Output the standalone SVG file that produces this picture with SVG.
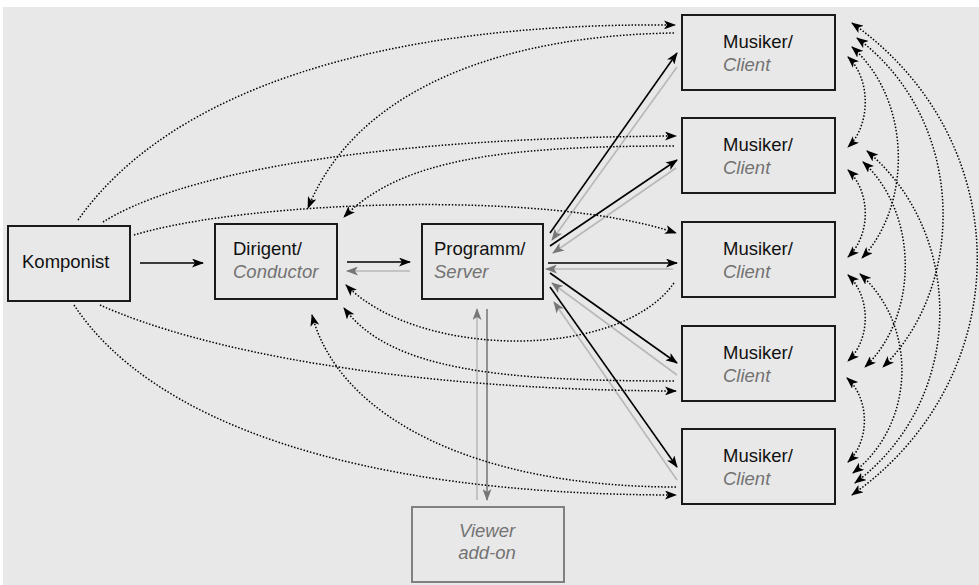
<svg xmlns="http://www.w3.org/2000/svg" width="979" height="585" viewBox="0 0 979 585">
<style>
.box{fill:#e8e8e8;stroke:#1a1a1a;stroke-width:2}
.vbox{fill:#e8e8e8;stroke:#808080;stroke-width:2}
.t{font-family:"Liberation Sans",Arial,sans-serif;font-size:18.5px;fill:#111}
.ti{font-family:"Liberation Sans",Arial,sans-serif;font-size:18.5px;font-style:italic;fill:#737373}
.solid{fill:none;stroke:#000;stroke-width:1.6;marker-end:url(#ah)}
.back{fill:none;stroke:#b8b8b8;stroke-width:1.6;marker-end:url(#ahg)}
.down{fill:none;stroke:#7a7a7a;stroke-width:1.6;marker-end:url(#ahg)}
.dot{fill:none;stroke:#000;stroke-width:1.5;stroke-dasharray:1.5 1.8;marker-end:url(#ah)}
.dot2{fill:none;stroke:#000;stroke-width:1.5;stroke-dasharray:1.5 1.8;marker-start:url(#ah);marker-end:url(#ah)}
</style>
<defs>
<marker id="ah" viewBox="0 0 12 9" refX="11" refY="4.5" markerWidth="12" markerHeight="9" markerUnits="userSpaceOnUse" orient="auto-start-reverse"><path d="M0,0 L12,4.5 L0,9 L3,4.5 z" fill="#000"/></marker>
<marker id="ahg" viewBox="0 0 12 9" refX="11" refY="4.5" markerWidth="12" markerHeight="9" markerUnits="userSpaceOnUse" orient="auto-start-reverse"><path d="M0,0 L12,4.5 L0,9 L3,4.5 z" fill="#767676"/></marker>
</defs>
<rect x="0" y="0" width="979" height="585" fill="#ffffff"/>
<rect x="3" y="7" width="976" height="578" fill="#e8e8e8"/>

<g id="connectors">
<path class="solid" d="M140,263 L203,263"/>
<path class="solid" d="M347,262 L410,262"/>
<path class="back" d="M410,271 L347,271"/>
<path class="solid" d="M550,233 L677,53"/>
<path class="solid" d="M550,246 L677,160"/>
<path class="solid" d="M548,263 L677,263"/>
<path class="solid" d="M550,273 L677,363"/>
<path class="solid" d="M550,287 L677,467"/>
<path class="back" d="M677,67 L552,240"/>
<path class="back" d="M676,168 L553,253"/>
<path class="back" d="M673,269 L546,269"/>
<path class="back" d="M677,375 L552,283"/>
<path class="back" d="M677,480 L554,302"/>
<path class="back" d="M477,500 L477,309"/>
<path class="down" d="M487,309 L487,500"/>

<path class="dot" d="M78,220 C170,90 380,22 675,25"/>
<path class="dot" d="M674,33 C520,35 360,80 308,208"/>
<path class="dot" d="M103,222 C170,180 340,138 676,136"/>
<path class="dot" d="M674,146 C500,146 400,160 344,217"/>
<path class="dot" d="M134,235 C250,200 550,190 676,233"/>
<path class="dot" d="M74,305 C150,420 350,495 676,495"/>
<path class="dot" d="M100,305 C200,350 400,390 676,391"/>
<path class="dot" d="M674,381 C500,381 390,370 344,308"/>
<path class="dot" d="M676,487 C480,487 340,420 312,315"/>
<path class="dot" d="M674,283 C620,360 420,360 346,285"/>

<path class="dot2" d="M848,57 C871,79 871,125 848,147"/>
<path class="dot2" d="M848,170 C871,192 871,235 848,257"/>
<path class="dot2" d="M848,275 C871,297 871,339 848,361"/>
<path class="dot2" d="M847,378 C870,399 870,441 848,462"/>
<path class="dot2" d="M852,47 C912,100 912,205 862,258"/>
<path class="dot2" d="M863,162 C919,213 919,316 865,367"/>
<path class="dot2" d="M860,274 C917,324 917,423 853,473"/>
<path class="dot2" d="M857,38 C967,120 967,285 883,367"/>
<path class="dot2" d="M867,151 C966,234 966,400 855,483"/>
<path class="dot2" d="M852,23 C1019,141 1019,377 852,495"/>
</g>

<g id="komponist">
<rect class="box" x="8" y="226" width="122" height="75"/>
<text class="t" x="22" y="268">Komponist</text>
</g>
<g id="dirigent">
<rect class="box" x="215" y="224" width="122" height="75"/>
<text class="t" x="233" y="255">Dirigent/</text>
<text class="ti" x="233" y="278">Conductor</text>
</g>
<g id="programm">
<rect class="box" x="422" y="224" width="121" height="75"/>
<text class="t" x="434" y="255">Programm/</text>
<text class="ti" x="434" y="278">Server</text>
</g>
<g id="musiker1">
<rect class="box" x="682" y="15" width="153" height="75"/>
<text class="t" x="723" y="48">Musiker/</text>
<text class="ti" x="723" y="71">Client</text>
</g>
<g id="musiker2">
<rect class="box" x="682" y="118" width="153" height="75"/>
<text class="t" x="723" y="151">Musiker/</text>
<text class="ti" x="723" y="174">Client</text>
</g>
<g id="musiker3">
<rect class="box" x="682" y="222" width="153" height="75"/>
<text class="t" x="723" y="255">Musiker/</text>
<text class="ti" x="723" y="278">Client</text>
</g>
<g id="musiker4">
<rect class="box" x="682" y="326" width="153" height="75"/>
<text class="t" x="723" y="359">Musiker/</text>
<text class="ti" x="723" y="382">Client</text>
</g>
<g id="musiker5">
<rect class="box" x="682" y="429" width="153" height="75"/>
<text class="t" x="723" y="462">Musiker/</text>
<text class="ti" x="723" y="485">Client</text>
</g>
<g id="viewer">
<rect class="vbox" x="412" y="507" width="152" height="75"/>
<text class="ti" x="487" y="537" text-anchor="middle" fill="#808080">Viewer</text>
<text class="ti" x="487" y="559" text-anchor="middle" fill="#808080">add-on</text>
</g>
</svg>
